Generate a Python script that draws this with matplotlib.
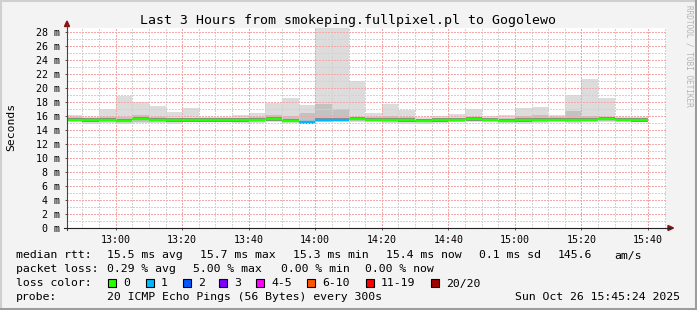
import matplotlib
matplotlib.use("Agg")
import matplotlib.pyplot as plt
from matplotlib.lines import Line2D
from matplotlib.patches import Rectangle, Polygon
import numpy as np

# ---------------- data ----------------
bin_starts = ["12:45", "12:50", "12:55", "13:00", "13:05", "13:10", "13:15", "13:20",
              "13:25", "13:30", "13:35", "13:40", "13:45", "13:50", "13:55", "14:00",
              "14:05", "14:10", "14:15", "14:20", "14:25", "14:30", "14:35", "14:40",
              "14:45", "14:50", "14:55", "15:00", "15:05", "15:10", "15:15", "15:20",
              "15:25", "15:30", "15:35"]
smoke_max = [16.1, 15.9, 17.0, 18.8, 18.0, 17.4, 16.6, 17.2, 15.9, 15.9, 16.1, 16.5,
             17.8, 18.6, 17.6, 30.0, 30.0, 21.0, 16.5, 17.7, 16.8, 15.9, 16.0, 16.3,
             17.0, 16.0, 16.2, 17.1, 17.3, 16.1, 19.0, 21.3, 18.6, 15.8, 15.8]
smoke_min = [15.1, 14.9, 15.0, 14.8, 15.0, 15.0, 14.8, 15.1, 15.1, 15.1, 15.0, 15.0,
             15.1, 15.0, 14.9, 15.1, 15.1, 15.2, 15.2, 15.0, 14.9, 14.9, 15.0, 15.1,
             15.1, 15.1, 15.0, 14.9, 15.0, 15.1, 15.0, 15.1, 15.1, 15.2, 15.2]
smoke_hi = [15.8, 15.7, 15.8, 15.9, 16.1, 15.8, 15.7, 15.7, 15.6, 15.6, 15.7, 15.8,
            16.1, 16.0, 16.5, 17.7, 17.0, 15.9, 15.8, 16.0, 15.8, 15.6, 15.6, 15.7,
            15.8, 15.7, 15.7, 16.0, 16.1, 15.8, 16.7, 16.0, 15.9, 15.7, 15.6]
smoke_lo = [15.3, 15.1, 15.2, 15.1, 15.2, 15.2, 15.1, 15.3, 15.2, 15.2, 15.2, 15.2,
            15.3, 15.1, 15.0, 15.2, 15.3, 15.3, 15.3, 15.2, 15.1, 15.1, 15.2, 15.2,
            15.3, 15.3, 15.2, 15.1, 15.2, 15.3, 15.2, 15.3, 15.3, 15.3, 15.3]
median_rtt = [15.5, 15.4, 15.45, 15.3, 15.6, 15.45, 15.4, 15.4, 15.4, 15.4, 15.4, 15.45,
              15.55, 15.3, 15.1, 15.45, 15.5, 15.6, 15.5, 15.5, 15.4, 15.3, 15.4, 15.45,
              15.55, 15.5, 15.3, 15.4, 15.45, 15.5, 15.5, 15.5, 15.6, 15.5, 15.4]
lost_pings = [0, 0, 0, 0, 0, 0, 0, 0, 0, 0, 0, 0, 0, 0, 1, 1, 1, 0, 0, 0, 0, 0, 0, 0,
              0, 0, 0, 0, 0, 0, 0, 0, 0, 0, 0]

loss_labels = ["0", "1", "2", "3", "4-5", "6-10", "11-19", "20/20"]
loss_colors = ["#26ff00", "#00b8ff", "#0059ff", "#7e00ff", "#ff00ff", "#ff5500",
               "#ff0000", "#a10000"]

x_tick_labels = ["13:00", "13:20", "13:40", "14:00", "14:20", "14:40", "15:00",
                 "15:20", "15:40"]
y_tick_values = [0, 2, 4, 6, 8, 10, 12, 14, 16, 18, 20, 22, 24, 26, 28]

title = "Last 3 Hours from smokeping.fullpixel.pl to Gogolewo"
t_start, t_end = "12:45:24", "15:45:24"

# ---------------- helpers ----------------
W, H = 697, 310
MONO = "DejaVu Sans Mono"


def tmin(s):
    parts = [float(p) for p in s.split(":")]
    m = parts[0] * 60 + parts[1]
    if len(parts) > 2:
        m += parts[2] / 60.0
    return m


def fx(x):
    return x / W


def fy(y):
    return 1 - y / H


fig = plt.figure(figsize=(W / 100, H / 100), dpi=100)
fig.patch.set_facecolor("#f3f3f3")

# frame
fig.add_artist(Line2D([0, 1], [fy(0.5), fy(0.5)], color="#cfcfcf", lw=1.5))
fig.add_artist(Line2D([fx(0.5), fx(0.5)], [0, 1], color="#cfcfcf", lw=1.5))
fig.add_artist(Line2D([0, 1], [fy(309), fy(309)], color="#9c9c9c", lw=2.2))
fig.add_artist(Line2D([fx(696), fx(696)], [0, 1], color="#9c9c9c", lw=2.2))

ax_l, ax_r, ax_t, ax_b = 67, 666, 28, 228
ax = fig.add_axes([fx(ax_l), fy(ax_b), (ax_r - ax_l) / W, (ax_b - ax_t) / H])
ax.set_facecolor("white")
ax.set_xlim(tmin(t_start), tmin(t_end))
ax.set_ylim(0, (ax_b - ax_t) / 7.0)

starts = np.array([tmin(s) for s in bin_starts])
edges = np.append(starts, starts[-1] + 5)

# smoke
ax.stairs(smoke_max, edges, baseline=smoke_min, fill=True, color="#dcdcdc", zorder=1)
ax.stairs(smoke_hi, edges, baseline=smoke_lo, fill=True, color="#c2c2c2", zorder=1.1)
med = np.array(median_rtt)
ax.stairs(med + 0.25, edges, baseline=med - 0.2, fill=True, color="#8a8a8a", zorder=1.2)

# grid
gkw = dict(lw=1.0, ls=(0, (1, 1)), antialiased=False)
for m in np.arange(765, 946, 5):
    if m % 20 == 0:
        continue
    ax.axvline(m, color="#d2d2d2", zorder=2, **gkw)
for v in range(1, 29, 2):
    ax.axhline(v, color="#d2d2d2", zorder=2, **gkw)
for lab in x_tick_labels:
    ax.axvline(tmin(lab), color="#f0a8a8", zorder=2.1, **gkw)
for v in y_tick_values[1:]:
    ax.axhline(v, color="#f0a8a8", zorder=2.1, **gkw)

# median line coloured by loss
cols = [loss_colors[min(l, 7)] if l < 2 else loss_colors[2] for l in lost_pings]
ax.hlines(median_rtt, edges[:-1], edges[1:], colors=cols, lw=1.7, zorder=3)

for s in ax.spines.values():
    s.set_visible(False)

ax.set_xticks([tmin(l) for l in x_tick_labels])
ax.set_xticklabels(x_tick_labels, fontsize=7.2, family=MONO)
ax.set_yticks(y_tick_values)
ax.set_yticklabels(["%d m" % v for v in y_tick_values], fontsize=7.2, family=MONO)
ax.tick_params(axis="both", length=1.6, width=0.7, color="#555555")
ax.tick_params(axis="x", pad=3.2)
ax.tick_params(axis="y", pad=3.6)

# axis lines and arrows
fig.add_artist(Line2D([fx(ax_l), fx(ax_l)], [fy(ax_b + 2), fy(24)], color="#444444", lw=0.8))
fig.add_artist(Line2D([fx(ax_l - 3), fx(670)], [fy(ax_b), fy(ax_b)], color="#222222", lw=0.8))
fig.add_artist(Polygon([[fx(64.5), fy(26.5)], [fx(69.5), fy(26.5)], [fx(67), fy(21)]],
                       closed=True, color="#8b1010"))
fig.add_artist(Polygon([[fx(668), fy(225.5)], [fx(668), fy(230.5)], [fx(673.5), fy(228)]],
                       closed=True, color="#8b1010"))

# texts
fig.text(fx(348), fy(24), title, family=MONO, fontsize=9.5, ha="center", va="baseline")
fig.text(fx(11), fy(127), "Seconds", family=MONO, fontsize=8.2, rotation=90,
         ha="center", va="center")
fig.text(fx(689.5), fy(5), "RRDTOOL / TOBI OETIKER", family=MONO, fontsize=5.6,
         rotation=270, ha="center", va="top", color="#b4b4b4")

FS = 8.25
line1 = [(16, "median rtt:"), (107, "15.5 ms avg"), (200, "15.7 ms max"),
         (293, "15.3 ms min"), (386, "15.4 ms now"), (479, "0.1 ms sd"),
         (558, "145.6"), (614, "am/s")]
line2 = [(16, "packet loss:"), (107, "0.29 % avg"), (193, "5.00 % max"),
         (281, "0.00 % min"), (365, "0.00 % now")]
for x, t in line1:
    fig.text(fx(x), fy(258.5), t, family=MONO, fontsize=FS, va="baseline")
for x, t in line2:
    fig.text(fx(x), fy(272.5), t, family=MONO, fontsize=FS, va="baseline")

fig.text(fx(16), fy(286.5), "loss color:", family=MONO, fontsize=FS, va="baseline")
box_x = [108, 146, 183, 219, 256, 307, 366, 431]
for bx, lab, c in zip(box_x, loss_labels, loss_colors):
    fig.add_artist(Rectangle((fx(bx), fy(287)), 8 / W, 8 / H, facecolor=c,
                             edgecolor="black", lw=0.8))
    fig.text(fx(bx + 15), fy(286.5), lab, family=MONO, fontsize=FS, va="baseline")

fig.text(fx(16), fy(300.5), "probe:", family=MONO, fontsize=FS, va="baseline")
fig.text(fx(107), fy(300.5), "20 ICMP Echo Pings (56 Bytes) every 300s", family=MONO,
         fontsize=FS, va="baseline")
fig.text(fx(680), fy(300.5), "Sun Oct 26 15:45:24 2025", family=MONO, fontsize=FS,
         va="baseline", ha="right")

fig.savefig("out.png", dpi=100, facecolor=fig.get_facecolor())
